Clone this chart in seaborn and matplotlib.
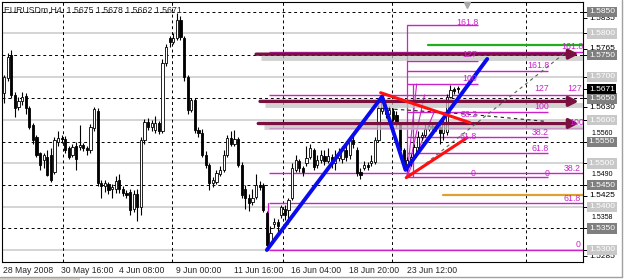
import matplotlib
matplotlib.use("Agg")
import matplotlib.pyplot as plt
import seaborn as sns
import pandas as pd
from matplotlib.lines import Line2D
from matplotlib.patches import Rectangle

# ---------------- data ----------------
title_text = "EURUSDm,H4  1.5675 1.5678 1.5662 1.5671"

opens = [1.5663, 1.5698, 1.5751, 1.5658, 1.5630, 1.5645, 1.5655, 1.5628, 1.5589, 1.5561,
         1.5524, 1.5508, 1.5515, 1.5520, 1.5480, 1.5550, 1.5559, 1.5556, 1.5535, 1.5520,
         1.5540, 1.5538, 1.5543, 1.5536, 1.5530, 1.5582, 1.5620, 1.5455, 1.5448, 1.5452,
         1.5440, 1.5440, 1.5462, 1.5440, 1.5432, 1.5434, 1.5395, 1.5430, 1.5400, 1.5554,
         1.5596, 1.5584, 1.5577, 1.5594, 1.5575, 1.5732, 1.5790, 1.5781, 1.5790, 1.5830,
         1.5790, 1.5700, 1.5624, 1.5647, 1.5577, 1.5570, 1.5520, 1.5497, 1.5455, 1.5458,
         1.5475, 1.5485, 1.5520, 1.5559, 1.5545, 1.5556, 1.5497, 1.5440, 1.5420, 1.5410,
         1.5423, 1.5450, 1.5450, 1.5386, 1.5315, 1.5360, 1.5365, 1.5381, 1.5395, 1.5393,
         1.5420, 1.5485, 1.5505, 1.5490, 1.5500, 1.5515, 1.5530, 1.5497, 1.5508, 1.5518,
         1.5505, 1.5515, 1.5500, 1.5513, 1.5510, 1.5531, 1.5520, 1.5554, 1.5530, 1.5480,
         1.5490, 1.5497, 1.5500, 1.5503, 1.5554, 1.5620, 1.5630, 1.5614, 1.5620, 1.5612,
         1.5590, 1.5530, 1.5497, 1.5505, 1.5515, 1.5538, 1.5561, 1.5566, 1.5580, 1.5587,
         1.5584, 1.5585, 1.5570, 1.5573, 1.5654, 1.5672, 1.5675]
highs = [1.5705, 1.5755, 1.5762, 1.5665, 1.5652, 1.5665, 1.5662, 1.5632, 1.5592, 1.5565,
         1.5527, 1.5525, 1.5530, 1.5535, 1.5560, 1.5575, 1.5566, 1.5563, 1.5540, 1.5545,
         1.5550, 1.5589, 1.5548, 1.5540, 1.5590, 1.5631, 1.5628, 1.5462, 1.5462, 1.5458,
         1.5452, 1.5470, 1.5475, 1.5448, 1.5438, 1.5440, 1.5438, 1.5440, 1.5560, 1.5602,
         1.5604, 1.5600, 1.5610, 1.5598, 1.5740, 1.5775, 1.5795, 1.5800, 1.5848, 1.5840,
         1.5795, 1.5705, 1.5650, 1.5650, 1.5585, 1.5580, 1.5528, 1.5500, 1.5468, 1.5485,
         1.5495, 1.5530, 1.5565, 1.5575, 1.5577, 1.5560, 1.5502, 1.5450, 1.5430, 1.5440,
         1.5475, 1.5460, 1.5455, 1.5390, 1.5355, 1.5375, 1.5372, 1.5405, 1.5405, 1.5420,
         1.5500, 1.5520, 1.5510, 1.5495, 1.5540, 1.5545, 1.5535, 1.5520, 1.5530, 1.5530,
         1.5535, 1.5522, 1.5530, 1.5535, 1.5540, 1.5545, 1.5560, 1.5566, 1.5538, 1.5490,
         1.5505, 1.5502, 1.5520, 1.5560, 1.5635, 1.5654, 1.5640, 1.5632, 1.5628, 1.5620,
         1.5592, 1.5535, 1.5515, 1.5522, 1.5545, 1.5575, 1.5572, 1.5590, 1.5592, 1.5590,
         1.5593, 1.5592, 1.5600, 1.5660, 1.5680, 1.5676, 1.5678]
lows = [1.5640, 1.5690, 1.5650, 1.5607, 1.5622, 1.5635, 1.5615, 1.5580, 1.5545, 1.5515,
        1.5485, 1.5490, 1.5470, 1.5457, 1.5475, 1.5540, 1.5548, 1.5525, 1.5510, 1.5515,
        1.5485, 1.5530, 1.5528, 1.5520, 1.5525, 1.5575, 1.5448, 1.5420, 1.5435, 1.5430,
        1.5420, 1.5432, 1.5432, 1.5425, 1.5420, 1.5381, 1.5388, 1.5366, 1.5380, 1.5545,
        1.5578, 1.5575, 1.5570, 1.5568, 1.5570, 1.5725, 1.5768, 1.5775, 1.5785, 1.5785,
        1.5690, 1.5615, 1.5618, 1.5570, 1.5560, 1.5515, 1.5490, 1.5439, 1.5445, 1.5452,
        1.5470, 1.5480, 1.5515, 1.5540, 1.5540, 1.5492, 1.5420, 1.5395, 1.5390, 1.5405,
        1.5418, 1.5438, 1.5388, 1.5300, 1.5310, 1.5350, 1.5340, 1.5375, 1.5370, 1.5360,
        1.5415, 1.5480, 1.5480, 1.5470, 1.5495, 1.5510, 1.5485, 1.5490, 1.5500, 1.5497,
        1.5500, 1.5490, 1.5485, 1.5505, 1.5500, 1.5505, 1.5510, 1.5535, 1.5470, 1.5465,
        1.5485, 1.5485, 1.5495, 1.5498, 1.5550, 1.5615, 1.5605, 1.5605, 1.5598, 1.5585,
        1.5520, 1.5485, 1.5482, 1.5495, 1.5510, 1.5530, 1.5555, 1.5560, 1.5575, 1.5578,
        1.5575, 1.5545, 1.5555, 1.5565, 1.5650, 1.5660, 1.5662]
closes = [1.5700, 1.5746, 1.5658, 1.5628, 1.5645, 1.5652, 1.5628, 1.5584, 1.5554, 1.5520,
          1.5497, 1.5520, 1.5473, 1.5462, 1.5554, 1.5559, 1.5556, 1.5531, 1.5515, 1.5538,
          1.5510, 1.5543, 1.5535, 1.5530, 1.5584, 1.5625, 1.5455, 1.5448, 1.5455, 1.5438,
          1.5446, 1.5460, 1.5440, 1.5432, 1.5427, 1.5393, 1.5430, 1.5400, 1.5554, 1.5596,
          1.5584, 1.5594, 1.5594, 1.5575, 1.5732, 1.5769, 1.5781, 1.5790, 1.5832, 1.5792,
          1.5700, 1.5624, 1.5647, 1.5577, 1.5570, 1.5520, 1.5497, 1.5455, 1.5462, 1.5478,
          1.5485, 1.5520, 1.5559, 1.5545, 1.5556, 1.5497, 1.5427, 1.5420, 1.5408, 1.5420,
          1.5450, 1.5445, 1.5393, 1.5312, 1.5340, 1.5365, 1.5355, 1.5400, 1.5380, 1.5416,
          1.5490, 1.5508, 1.5490, 1.5480, 1.5512, 1.5536, 1.5492, 1.5508, 1.5520, 1.5505,
          1.5518, 1.5500, 1.5513, 1.5520, 1.5531, 1.5515, 1.5554, 1.5545, 1.5478, 1.5473,
          1.5497, 1.5492, 1.5505, 1.5554, 1.5628, 1.5645, 1.5614, 1.5624, 1.5603, 1.5590,
          1.5530, 1.5497, 1.5508, 1.5515, 1.5538, 1.5561, 1.5566, 1.5580, 1.5587, 1.5584,
          1.5587, 1.5570, 1.5594, 1.5654, 1.5670, 1.5668, 1.5671]

date_labels = ["28 May 2008", "30 May 16:00", "4 Jun 08:00", "9 Jun 00:00",
               "11 Jun 16:00", "16 Jun 04:00", "18 Jun 20:00", "23 Jun 12:00"]
date_label_bars = [-0.5, 15.5, 31.5, 47.5, 63.5, 79.5, 95.5, 111.5]

# blue zigzag and red triangle (bar index, price)
zigzag_bars = [73.0, 105.0, 111.5, 134.2]
zigzag_prices = [1.5300, 1.5654, 1.5485, 1.5741]
red_upper_bars = [104.6, 129.4]
red_upper_prices = [1.5663, 1.5594]
red_lower_bars = [111.7, 128.6]
red_lower_prices = [1.5467, 1.5559]

# maroon arrows
arrow_prices = [1.5752, 1.5643, 1.5592]
arrow_start_bars = [70.0, 71.1, 70.6]
arrow_end_bar = 159.6

# magenta fibonacci levels
fib_prices = [1.5819, 1.5757, 1.5736, 1.5713, 1.5683, 1.5658, 1.5619, 1.5582,
              1.5561, 1.5524, 1.5478, 1.5469, 1.5409, 1.5300]
fib_start_bars = [111.9, 73.6, 111.9, 111.9, 111.9, 73.6, 111.9, 73.6,
                  111.9, 111.9, 73.6, 111.9, 73.6, 73.6]
fib_end_bars = [131.7, 160.8, 131.7, 151.1, 131.7, 160.8, 151.1, 160.8,
                151.1, 151.1, 160.8, 151.1, 160.8, 160.8]
fib_texts = ["161.8", "127", "100", "161.8", "161.8", "127", "127", "100", "100",
             "38.2", "61.8", "38.2", "61.8", "38.2", "0", "0", "61.8", "0"]
fib_text_bars = [128.6, 129.2, 129.4, 148.3, 157.8, 149.4, 158.6, 149.4, 158.9,
                 129.2, 128.9, 148.9, 148.9, 157.8, 130.3, 150.8, 157.8, 159.4]
fib_text_prices = [1.5826, 1.5752, 1.5695, 1.5725, 1.5769, 1.5672, 1.5672, 1.5632, 1.5595,
                   1.5612, 1.5561, 1.5572, 1.5535, 1.5489, 1.5477, 1.5477, 1.5420, 1.5312]
fib_vert_bars = [73.3, 111.9, 113.6]
fib_vert_top = [1.5409, 1.5819, 1.5683]
fib_vert_bottom = [1.5300, 1.5469, 1.5469]
fan_end_bars = [114.6, 116.8, 119.5]
fan_end_prices = [1.5683, 1.5658, 1.5619]

green_price, green_start = 1.5773, 117.8
orange_price, orange_start = 1.5428, 121.9
dash_gray_bars, dash_gray_prices = [112.8, 155.8], [1.5471, 1.5755]
dash_black_bars, dash_black_prices = [104.7, 129.4, 150.3], [1.5627, 1.5613, 1.5597]

# right price scale: plain labels (text, drawn at price), boxed labels
axis_plain = ["1.5835", "1.5765", "1.5630", "1.5425", "1.5285"]
axis_partial = ["1.5560", "1.5490", "1.5358"]
axis_partial_prices = [1.5570, 1.54743, 1.53745]
axis_dark = ["1.5850", "1.5750", "1.5650", "1.5550", "1.5450", "1.5350"]
axis_light = ["1.5800", "1.5700", "1.5600", "1.5500", "1.5400", "1.5300"]
current_price = "1.5671"

grid_vert_bars = [16.4, 46.7, 77.5, 107.8, 145.0]

# ---------------- drawing ----------------
sns.set_style("white")
plt.rcParams['font.family'] = ['Liberation Sans', 'DejaVu Sans']

W, H = 625, 280
fig = plt.figure(figsize=(W / 100, H / 100), dpi=100)
ax = fig.add_axes([2 / W, 1 - 262 / H, 581 / W, 260 / H])
ax.set_xlim(-0.56, 160.8)
ax.set_ylim(1.52723, 1.58724)

# grid
for p in axis_dark:
    ax.axhline(float(p), color='black', lw=0.7, ls=(0, (3, 3)), zorder=1)
for p in axis_light:
    ax.axhline(float(p), color='#d4d4d4', lw=1.4, zorder=0.9)
for b in grid_vert_bars:
    ax.axvline(b, color='black', lw=0.7, ls=(0, (3, 3)), zorder=1)

mag = '#cc22cc'
# fib lines
for p, x0, x1 in zip(fib_prices, fib_start_bars, fib_end_bars):
    ax.plot([x0, x1], [p, p], color=mag, lw=1.0, zorder=2, solid_capstyle='butt')
for b, t, bt in zip(fib_vert_bars, fib_vert_top, fib_vert_bottom):
    ax.plot([b, b], [bt, t], color=mag, lw=0.9, zorder=2)
for xb, pb in zip(fan_end_bars, fan_end_prices):
    ax.plot([fib_vert_bars[1], xb], [fib_vert_bottom[1], pb], color=mag, lw=0.8, zorder=2)

# green & orange
ax.plot([green_start, 160.8], [green_price, green_price], color='#1fae1f', lw=1.6, zorder=2)
ax.plot([orange_start, 160.8], [orange_price, orange_price], color='#e0a030', lw=1.6, zorder=2)

# candles
idx = list(range(len(closes)))
ax.vlines(idx, lows, highs, color='black', lw=0.8, zorder=3)
bottoms = [min(o, c) for o, c in zip(opens, closes)]
heights = [max(abs(c - o), 0.00006) for o, c in zip(opens, closes)]
faces = ['white' if c >= o else 'black' for o, c in zip(opens, closes)]
ax.bar(idx, heights, bottom=bottoms, width=0.62, color=faces, edgecolor='black',
       linewidth=0.6, zorder=4)

# arrows with shadows
maroon = '#7a1040'
for p, x0 in zip(arrow_prices, arrow_start_bars):
    ax.plot([x0 + 1.5, 160.8], [p - 0.0009, p - 0.0009], color='#c4c4c4', lw=3.5,
            alpha=0.75, zorder=4.5, solid_capstyle='butt')
    ax.annotate('', xy=(arrow_end_bar, p), xytext=(x0, p),
                arrowprops=dict(arrowstyle='-|>,head_length=0.55,head_width=0.28',
                                lw=2.4, color=maroon, shrinkA=0, shrinkB=0), zorder=5)

# dashed helper lines
ax.plot(dash_gray_bars, dash_gray_prices, color='#556655', lw=0.8, ls=(0, (3, 3)), zorder=5)
ax.plot(dash_black_bars, dash_black_prices, color='#222222', lw=0.8, ls=(0, (3, 3)), zorder=5)

# zigzag and triangle
sns.lineplot(x=zigzag_bars, y=zigzag_prices, sort=False, estimator=None, color='#0a0aee',
             lw=2.8, ax=ax, zorder=6)
sns.lineplot(x=red_upper_bars, y=red_upper_prices, sort=False, estimator=None,
             color='#ff1010', lw=2.2, ax=ax, zorder=6)
sns.lineplot(x=red_lower_bars, y=red_lower_prices, sort=False, estimator=None,
             color='#ff1010', lw=2.2, ax=ax, zorder=6)

# fib texts
for t, b, p in zip(fib_texts, fib_text_bars, fib_text_prices):
    ax.text(b, p, t, color=mag, fontsize=6.3, ha='center', va='center', zorder=7)

# top-left title
ax.text(0.003, 0.985, title_text, transform=ax.transAxes, fontsize=6.3, ha='left',
        va='top', zorder=8)
ax.plot([128.6], [0.99], marker='v', color='#a8a8a8', ms=4,
        transform=ax.get_xaxis_transform(), clip_on=False, zorder=8)

# axes styling
for s in ax.spines.values():
    s.set_color('black')
    s.set_linewidth(0.8)
all_levels = [float(v) for v in axis_plain + axis_dark + axis_light + [current_price]]
ax.yaxis.tick_right()
ax.set_yticks(all_levels)
ax.set_yticklabels([])
ax.set_xticks(date_label_bars)
ax.set_xticklabels([])
ax.tick_params(axis='both', direction='out', length=3, width=0.7, color='black')
ax.set_xlabel('')
ax.set_ylabel('')

ytr = ax.get_yaxis_transform()
xcol = 1.0325
for t in axis_plain:
    ax.text(xcol, float(t), t, transform=ytr, fontsize=6.0, ha='center', va='center',
            color='black', clip_on=False, zorder=9)
for t, p in zip(axis_partial, axis_partial_prices):
    ax.text(xcol, p, t, transform=ytr, fontsize=5.0, ha='center', va='center',
            color='black', clip_on=False, zorder=9)
for t, fc in [(v, '#c8c8c8') for v in axis_light] + [(v, '#7f7f7f') for v in axis_dark] + \
        [(current_price, 'black')]:
    ax.text(xcol, float(t), t, transform=ytr, fontsize=6.0, ha='center', va='center',
            color='white', clip_on=False, zorder=10,
            bbox=dict(boxstyle='square,pad=0.2', fc=fc, ec='none'))

xtr = ax.get_xaxis_transform()
for t, b in zip(date_labels, date_label_bars):
    ax.text(b + 0.3, -0.032, t, transform=xtr, fontsize=6.2, ha='left', va='center',
            clip_on=False)

# outer window frame
fig.add_artist(Line2D([622 / W, 622 / W], [3 / H, 1], color='#a0a0a0', lw=1))
fig.add_artist(Line2D([0, 622 / W], [3 / H, 3 / H], color='#a0a0a0', lw=1))
fig.add_artist(Rectangle((0, 0), 80 / W, 3 / H, color='#d4d0c8', lw=0))

fig.savefig('out.png', dpi=100)
